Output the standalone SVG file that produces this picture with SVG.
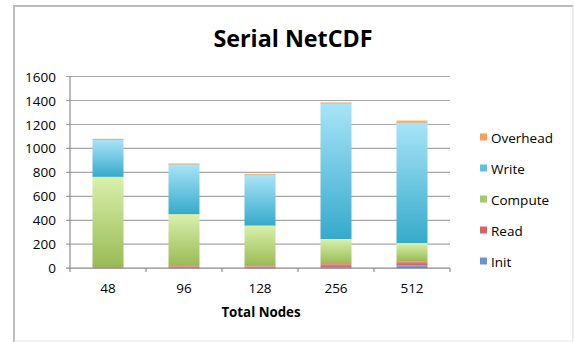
<svg xmlns="http://www.w3.org/2000/svg" width="574" height="342" viewBox="0 0 574 342">
<defs>
<linearGradient id="gCompute" x1="0" y1="0" x2="0" y2="1"><stop offset="0" stop-color="#d9f0ab"/><stop offset="1" stop-color="#99bb55"/></linearGradient>
<linearGradient id="gWrite" x1="0" y1="0" x2="0" y2="1"><stop offset="0" stop-color="#a8e4f8"/><stop offset="1" stop-color="#35aacb"/></linearGradient>
<linearGradient id="gOver" x1="0" y1="0" x2="0" y2="1"><stop offset="0" stop-color="#fbc08f"/><stop offset="1" stop-color="#f79646"/></linearGradient>
<linearGradient id="gRead" x1="0" y1="0" x2="0" y2="1"><stop offset="0" stop-color="#ec9896"/><stop offset="1" stop-color="#d05c59"/></linearGradient>
<linearGradient id="gInit" x1="0" y1="0" x2="0" y2="1"><stop offset="0" stop-color="#93b3e2"/><stop offset="1" stop-color="#5584c4"/></linearGradient>
</defs>
<style>
text{font-family:"Open Sans","Liberation Sans",sans-serif;fill:#000}
.ax{font-size:13.5px}
.yl{text-anchor:end}
.xl{text-anchor:middle}
.grid{stroke:#a6a6a6;stroke-width:1.2;fill:none}
.axis{stroke:#8c8c8c;stroke-width:1.2;fill:none}
.c{fill:url(#gCompute)}
.w{fill:url(#gWrite)}
.o{fill:url(#gOver)}
.r{fill:url(#gRead)}
.i{fill:url(#gInit)}
</style>
<rect width="574" height="342" fill="#ffffff"/>
<g id="frame">
<line x1="14" y1="6" x2="573" y2="6" stroke="#bdbdbd" stroke-width="2"/>
<line x1="14" y1="5" x2="14" y2="342" stroke="#bdbdbd" stroke-width="2"/>
<line x1="573" y1="6" x2="573" y2="341" stroke="#dcdcdc" stroke-width="1"/>
<line x1="14" y1="341" x2="573" y2="341" stroke="#e6e6e6" stroke-width="1"/>
</g>
<g id="title"><text x="293" y="47" font-size="23.3" font-weight="bold" text-anchor="middle">Serial NetCDF</text></g>
<g id="gridlines">
<path class="grid" d="M66 76.5H450M66 100.5H450M66 124.5H450M66 148.4H450M66 172.4H450M66 196.3H450M66 220.3H450M66 244.2H450"/>
</g>
<g id="axes">
<path class="axis" d="M70 76V268.2M66 268.2H450M70 268.2V272M146 268.2V272M222 268.2V272M298 268.2V272M374 268.2V272M450 268.2V272"/>
</g>
<g id="yLabels" class="ax">
<text class="yl" x="56" y="81.5">1600</text>
<text class="yl" x="56" y="105.5">1400</text>
<text class="yl" x="56" y="129.5">1200</text>
<text class="yl" x="56" y="153.4">1000</text>
<text class="yl" x="56" y="177.4">800</text>
<text class="yl" x="56" y="201.3">600</text>
<text class="yl" x="56" y="225.3">400</text>
<text class="yl" x="56" y="249.2">200</text>
<text class="yl" x="56" y="273.2">0</text>
</g>
<g id="bar-48">
<rect class="o" x="92.5" y="138.7" width="31" height="1.6"/>
<rect class="w" x="92.5" y="140" width="31" height="37"/>
<rect class="c" x="92.5" y="176.8" width="31" height="90.4"/>
<rect class="r" x="92.5" y="267" width="31" height="1.2"/>
</g>
<g id="bar-96">
<rect class="o" x="168.5" y="163.3" width="31" height="1.6"/>
<rect class="w" x="168.5" y="164.5" width="31" height="50"/>
<rect class="c" x="168.5" y="214.4" width="31" height="52"/>
<rect class="r" x="168.5" y="266.2" width="31" height="2"/>
</g>
<g id="bar-128">
<rect class="o" x="244.5" y="174" width="31" height="1.6"/>
<rect class="w" x="244.5" y="175.2" width="31" height="50.6"/>
<rect class="c" x="244.5" y="225.7" width="31" height="40.7"/>
<rect class="r" x="244.5" y="266.3" width="31" height="1.9"/>
</g>
<g id="bar-256">
<rect class="o" x="320.5" y="102.3" width="31" height="1.6"/>
<rect class="w" x="320.5" y="103.5" width="31" height="135.6"/>
<rect class="c" x="320.5" y="239" width="31" height="25.1"/>
<rect class="r" x="320.5" y="264" width="31" height="3"/>
<rect class="i" x="320.5" y="266.9" width="31" height="1.3"/>
</g>
<g id="bar-512">
<rect class="o" x="396.5" y="120.4" width="31" height="2.5"/>
<rect class="w" x="396.5" y="122.7" width="31" height="120.5"/>
<rect class="c" x="396.5" y="243.1" width="31" height="18.1"/>
<rect class="r" x="396.5" y="261.1" width="31" height="4"/>
<rect class="i" x="396.5" y="265" width="31" height="3.2"/>
</g>
<g id="xLabels" class="ax">
<text class="xl" x="108" y="293">48</text>
<text class="xl" x="184" y="293">96</text>
<text class="xl" x="260" y="293">128</text>
<text class="xl" x="336" y="293">256</text>
<text class="xl" x="412" y="293">512</text>
</g>
<g id="xTitle"><text x="261" y="317" font-size="13.3" font-weight="bold" text-anchor="middle">Total Nodes</text></g>
<g id="legend" class="ax">
<rect x="480" y="133.5" width="7" height="7" fill="#f7a05c"/>
<text x="491" y="143">Overhead</text>
<rect x="480" y="164.5" width="7" height="7" fill="#5cc3df"/>
<text x="491" y="174">Write</text>
<rect x="480" y="195.5" width="7" height="7" fill="#a6c96b"/>
<text x="491" y="205">Compute</text>
<rect x="480" y="226.5" width="7" height="7" fill="#d8625f"/>
<text x="491" y="236">Read</text>
<rect x="480" y="257.5" width="7" height="7" fill="#6a93cf"/>
<text x="491" y="267">Init</text>
</g>
</svg>
